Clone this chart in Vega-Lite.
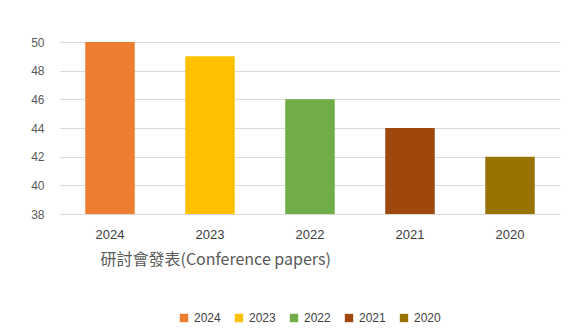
{
  "$schema": "https://vega.github.io/schema/vega-lite/v6.json",
  "width": 500,
  "height": 172,
  "autosize": {"type": "none"},
  "padding": {"left": 60, "right": 20, "top": 42, "bottom": 115},
  "background": "white",
  "data": {
    "values": [
      {"year": "2024", "papers": 50},
      {"year": "2023", "papers": 49},
      {"year": "2022", "papers": 46},
      {"year": "2021", "papers": 44},
      {"year": "2020", "papers": 42}
    ]
  },
  "mark": {"type": "bar", "width": {"band": 0.55}},
  "encoding": {
    "x": {
      "field": "year",
      "type": "nominal",
      "sort": ["2024", "2023", "2022", "2021", "2020"],
      "title": "研討會發表(Conference papers)",
      "axis": {
        "labelAngle": 0,
        "labelFont": "Liberation Sans",
        "labelFontSize": 13,
        "labelColor": "#404040",
        "labelPadding": 14,
        "domain": true,
        "domainColor": "#d9d9d9",
        "ticks": false,
        "titleFont": "Noto Sans CJK TC",
        "titleFontSize": 16,
        "titleFontWeight": "normal",
        "titleColor": "#595959",
        "titleAnchor": "start",
        "titleX": 40,
        "titlePadding": 10
      }
    },
    "y": {
      "field": "papers",
      "type": "quantitative",
      "scale": {"domain": [38, 50], "zero": false, "clamp": true},
      "title": null,
      "axis": {
        "values": [38, 40, 42, 44, 46, 48, 50],
        "labelFont": "Liberation Sans",
        "labelFontSize": 12,
        "labelColor": "#595959",
        "labelPadding": 16,
        "domain": false,
        "ticks": false,
        "grid": true,
        "gridColor": "#d9d9d9"
      }
    },
    "color": {
      "field": "year",
      "type": "nominal",
      "sort": ["2024", "2023", "2022", "2021", "2020"],
      "scale": {
        "domain": ["2024", "2023", "2022", "2021", "2020"],
        "range": ["#ED7D31", "#FFC000", "#70AD47", "#9E480E", "#997300"]
      },
      "legend": {
        "title": null,
        "orient": "none",
        "direction": "horizontal",
        "legendX": 118,
        "legendY": 270,
        "symbolType": "square",
        "symbolSize": 70,
        "symbolStrokeWidth": 0,
        "labelFont": "Liberation Sans",
        "labelFontSize": 12,
        "labelColor": "#404040",
        "columnPadding": 12,
        "labelOffset": 4
      }
    }
  },
  "config": {"view": {"stroke": null}}
}
